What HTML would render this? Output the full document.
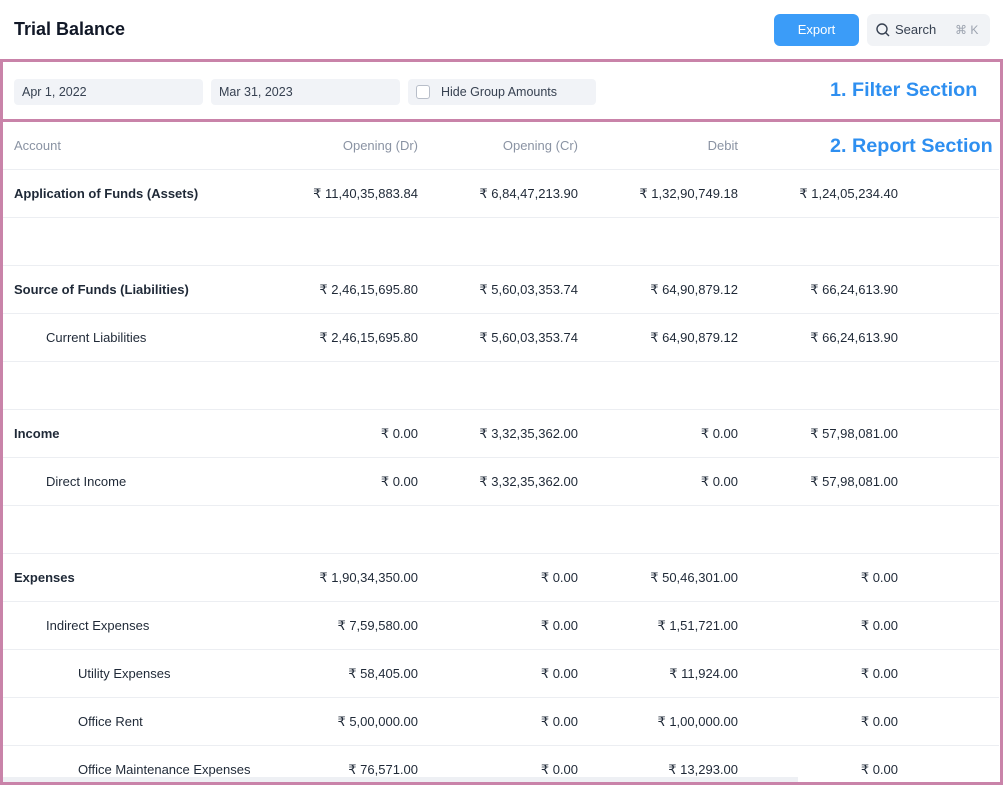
<!DOCTYPE html>
<html><head><style>
body{margin:0;width:1003px;height:796px;background:#fff;font-family:"Liberation Sans",sans-serif;position:relative;overflow:hidden;color:#1f2937}
.a{position:absolute}
.t{left:14px;top:19px;font-size:18px;font-weight:bold;color:#111827}
.btn{top:14px;left:774px;width:85px;height:32px;background:#3b9cf8;border-radius:6px;color:#fff;font-size:13px;text-align:center;line-height:32px}
.srch{top:14px;left:867px;width:123px;height:32px;background:#f1f3f6;border-radius:6px;font-size:13px;line-height:32px;color:#374151}
.box{border:3px solid #c983a9;box-sizing:border-box}
.inp{top:79px;height:26px;background:#f1f3f7;border-radius:4px;font-size:12.5px;line-height:26px;color:#374151;padding-left:8px;box-sizing:border-box}
.lab{color:#2e8ff0;font-weight:bold;font-size:19.8px}
.row{left:3px;width:996px;height:48px;border-bottom:1px solid #eceef2;font-size:13px;line-height:50px}
.row span{position:absolute}
.c1{right:581px}.c2{right:421px}.c3{right:261px}.c4{right:101px}
.b{font-weight:bold}
.h{color:#8a93a3}
</style></head><body>
<div class="a t">Trial Balance</div>
<div class="a btn">Export</div>
<div class="a srch"><svg class="a" style="left:9px;top:9px" width="14" height="14"><circle cx="6" cy="6" r="5" fill="none" stroke="#374151" stroke-width="1.4"/><line x1="9.5" y1="9.5" x2="13" y2="13" stroke="#374151" stroke-width="1.4"/></svg><span class="a" style="left:28px">Search</span><span class="a" style="left:88px;color:#9ca3af;font-size:12px">⌘ K</span></div>
<div class="a box" style="left:0;top:59px;width:1003px;height:63px"></div>
<div class="a box" style="left:0;top:119px;width:1003px;height:666px"></div>
<div class="a inp" style="left:14px;width:189px">Apr 1, 2022</div>
<div class="a inp" style="left:211px;width:189px">Mar 31, 2023</div>
<div class="a inp" style="left:408px;width:188px;padding-left:33px">Hide Group Amounts</div>
<div class="a" style="left:416px;top:85px;width:12px;height:12px;border:1px solid #b8bec9;border-radius:3px;background:#fff"></div>
<div class="a lab" style="left:830px;top:79px">1. Filter Section</div>
<div class="a lab" style="left:830px;top:135px">2. Report Section</div>
<div class="a row h" style="top:121px"><span style="left:11px">Account</span><span class="c1">Opening (Dr)</span><span class="c2">Opening (Cr)</span><span class="c3">Debit</span></div>
<div class="a row" style="top:169px"><span class="b" style="left:11px">Application of Funds (Assets)</span><span class="c1">₹ 11,40,35,883.84</span><span class="c2">₹ 6,84,47,213.90</span><span class="c3">₹ 1,32,90,749.18</span><span class="c4">₹ 1,24,05,234.40</span></div>
<div class="a row" style="top:217px"></div>
<div class="a row" style="top:265px"><span class="b" style="left:11px">Source of Funds (Liabilities)</span><span class="c1">₹ 2,46,15,695.80</span><span class="c2">₹ 5,60,03,353.74</span><span class="c3">₹ 64,90,879.12</span><span class="c4">₹ 66,24,613.90</span></div>
<div class="a row" style="top:313px"><span style="left:43px">Current Liabilities</span><span class="c1">₹ 2,46,15,695.80</span><span class="c2">₹ 5,60,03,353.74</span><span class="c3">₹ 64,90,879.12</span><span class="c4">₹ 66,24,613.90</span></div>
<div class="a row" style="top:361px"></div>
<div class="a row" style="top:409px"><span class="b" style="left:11px">Income</span><span class="c1">₹ 0.00</span><span class="c2">₹ 3,32,35,362.00</span><span class="c3">₹ 0.00</span><span class="c4">₹ 57,98,081.00</span></div>
<div class="a row" style="top:457px"><span style="left:43px">Direct Income</span><span class="c1">₹ 0.00</span><span class="c2">₹ 3,32,35,362.00</span><span class="c3">₹ 0.00</span><span class="c4">₹ 57,98,081.00</span></div>
<div class="a row" style="top:505px"></div>
<div class="a row" style="top:553px"><span class="b" style="left:11px">Expenses</span><span class="c1">₹ 1,90,34,350.00</span><span class="c2">₹ 0.00</span><span class="c3">₹ 50,46,301.00</span><span class="c4">₹ 0.00</span></div>
<div class="a row" style="top:601px"><span style="left:43px">Indirect Expenses</span><span class="c1">₹ 7,59,580.00</span><span class="c2">₹ 0.00</span><span class="c3">₹ 1,51,721.00</span><span class="c4">₹ 0.00</span></div>
<div class="a row" style="top:649px"><span style="left:75px">Utility Expenses</span><span class="c1">₹ 58,405.00</span><span class="c2">₹ 0.00</span><span class="c3">₹ 11,924.00</span><span class="c4">₹ 0.00</span></div>
<div class="a row" style="top:697px"><span style="left:75px">Office Rent</span><span class="c1">₹ 5,00,000.00</span><span class="c2">₹ 0.00</span><span class="c3">₹ 1,00,000.00</span><span class="c4">₹ 0.00</span></div>
<div class="a row" style="top:745px;border:none;height:37px;overflow:hidden"><span style="left:75px">Office Maintenance Expenses</span><span class="c1">₹ 76,571.00</span><span class="c2">₹ 0.00</span><span class="c3">₹ 13,293.00</span><span class="c4">₹ 0.00</span></div>
<div class="a" style="left:3px;top:777px;width:795px;height:5px;background:#eef0f4"></div>
</body></html>
